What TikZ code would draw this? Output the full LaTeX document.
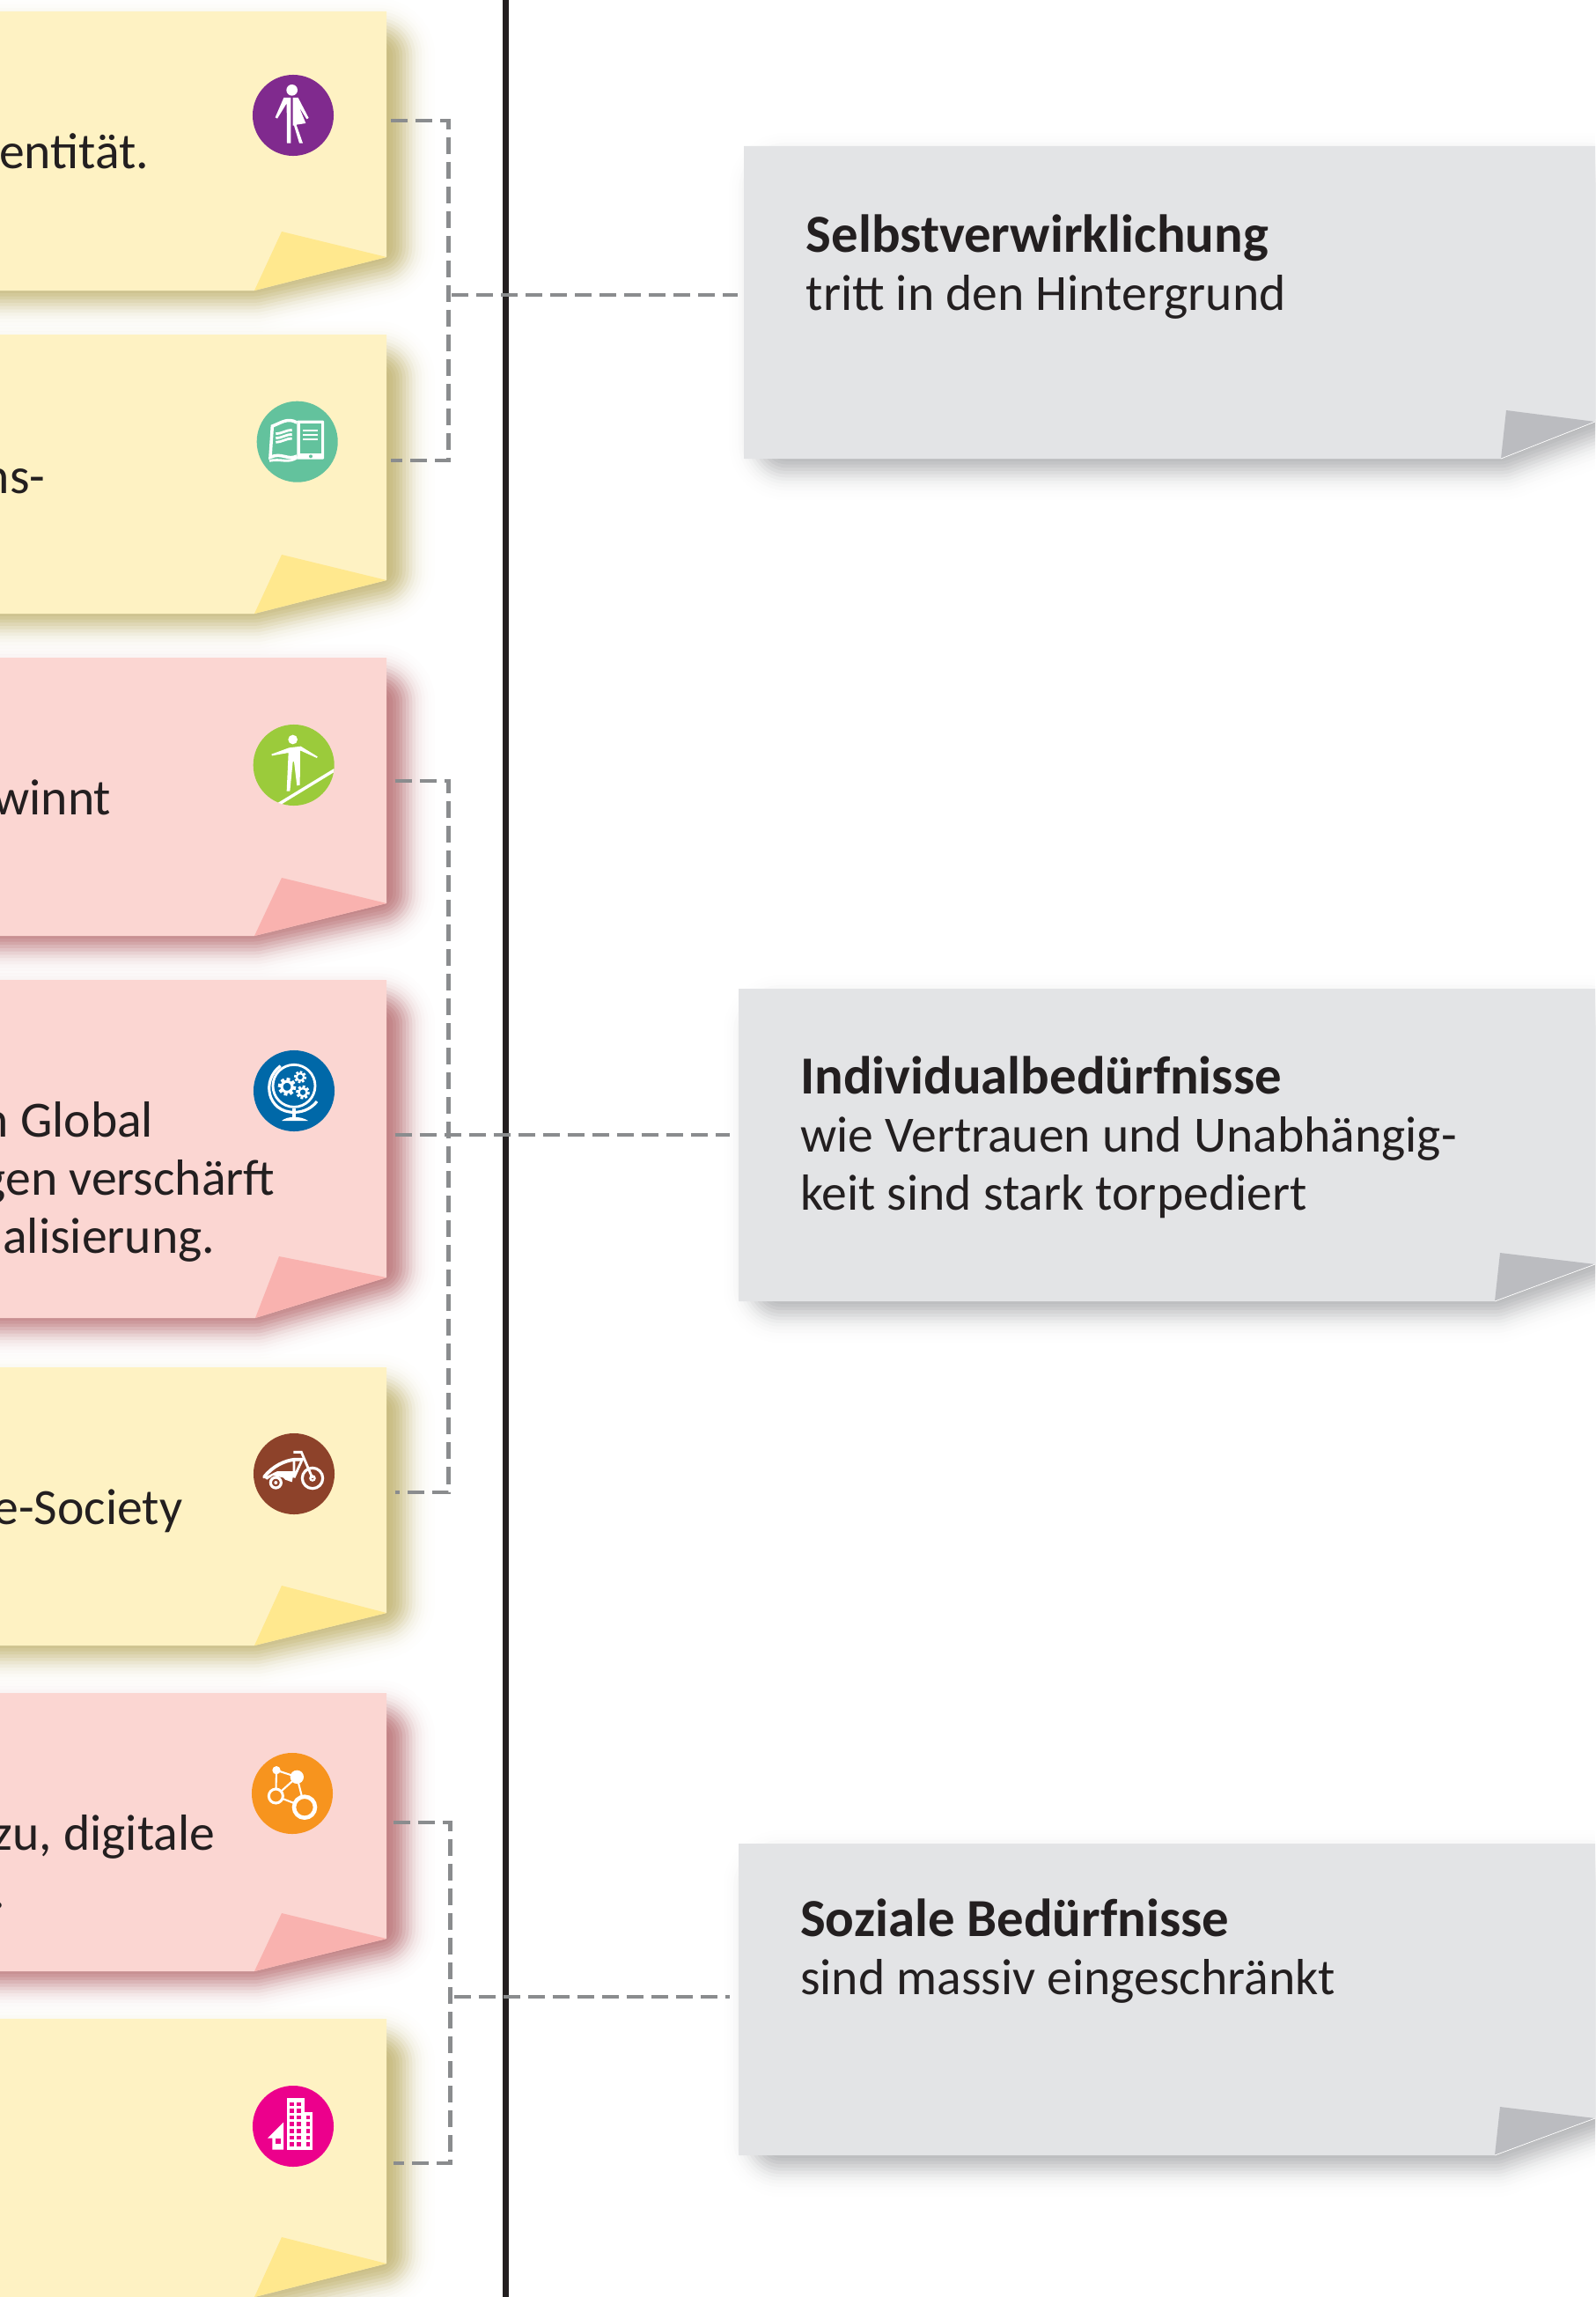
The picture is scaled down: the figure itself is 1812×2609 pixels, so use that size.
\documentclass[tikz,border=0pt]{standalone}
\usepackage{fontspec}
\setmainfont{Carlito}
\usetikzlibrary{calc}

\definecolor{inkdark}{HTML}{231F20}
\definecolor{linkgray}{HTML}{8A8C8E}
\definecolor{paperY}{HTML}{FEF2C3}
\definecolor{foldY}{HTML}{FFE88E}
\definecolor{shadeY}{HTML}{C6B97C}
\definecolor{paperR}{HTML}{FBD6D2}
\definecolor{foldR}{HTML}{F9B2AF}
\definecolor{shadeR}{HTML}{BE7C7F}
\definecolor{paperG}{HTML}{E3E4E6}
\definecolor{foldG}{HTML}{BBBCC0}
\definecolor{shadeG}{HTML}{B2B3B5}
\definecolor{badgepurple}{HTML}{802A8E}
\definecolor{badgegreen}{HTML}{63C29D}
\definecolor{badgelime}{HTML}{9BCB3B}
\definecolor{badgeblue}{HTML}{0068A8}
\definecolor{badgebrown}{HTML}{8D422A}
\definecolor{badgeorange}{HTML}{F7941E}
\definecolor{badgepink}{HTML}{EC008C}

\newcommand{\icongear}[3]{%
    \draw[white, line width=#3*0.0012cm] (#1,#2) circle ({#3*0.72});
    \foreach \a in {0,45,...,315}
        \draw[white, line width=#3*0.0016cm] (#1,#2) ++(\a+10:{#3*0.8}) -- ++(\a+10:{#3*0.42});
}
\newcommand{\boldline}[1]{{\fontsize{17.3}{18.7}\selectfont\bfseries #1}}

\begin{document}
\begin{tikzpicture}[
    x=0.01cm, y=-0.01cm,
    notetext/.style={font=\fontsize{16.4}{18.7}\selectfont, text=inkdark, inner sep=0pt},
    badge/.style={circle, minimum size=0.92cm, inner sep=0pt},
    dashlink/.style={draw=linkgray, line width=1.2pt, dash pattern=on 0.19cm off 0.09cm},
    zoomed/.style={x=0.01cm/3, y=-0.01cm/3},
    sheet/.style={inner sep=0pt}
]
    \useasboundingbox (0,0) rectangle (1812,2609);
    \clip (0,0) rectangle (1812,2609);

    % Sheets: shadows first, then paper and fold
    \def\sheetlist{
        noteIdent/-80/439/13/330/292/320/263/289/Y,
        noteBook/-80/439/380/697/659/320/630/289/Y,
        noteRope/-80/439/747/1063/1026/320/997/289/R,
        noteGlobe/-80/439/1113/1497/1451/317/1427/290/R,
        noteBike/-80/439/1553/1869/1832/320/1801/289/Y,
        noteNet/-80/439/1923/2239/2202/320/2173/289/R,
        noteCity/-80/439/2293/2609/2571/320/2541/289/Y,
        boxSelbst/845/1812/166/521/479/1711/466/1705/G,
        boxIndiv/839/1812/1123/1478/1436/1704/1423/1698/G,
        boxSozial/839/1812/2094/2448/2406/1704/2393/1698/G}
    \foreach \nm/\nl/\nr/\nt/\nb/\nc/\tx/\ty/\fx/\kind [expand list] in \sheetlist {
        \foreach \k in {1,...,16} {
            \pgfmathsetmacro{\lw}{2*(6+3.7*\k)*0.01}
            \pgfmathsetmacro{\op}{0.01+0.0024*(16-\k)*(16-\k)}
            \draw[draw=shade\kind, opacity=\op, line join=round, line width=\lw cm]
                ({\nl+48},{\nt+50}) -- ({\nr-10},{\nt+50}) -- ({\nr-10},{\nc-12}) -- (\fx,{\nb-18}) -- ({\nl+48},{\nb-18}) -- cycle;
        }
    }
    \foreach \nm/\nl/\nr/\nt/\nb/\nc/\tx/\ty/\fx/\kind [expand list] in \sheetlist {
        \fill[paper\kind] (\nl,\nt) -- (\nr,\nt) -- (\nr,\nc) -- (\fx,\nb) -- (\nl,\nb) -- cycle;
        \fill[fold\kind] (\tx,\ty) -- (\nr,\nc) -- (\fx,\nb) -- cycle;
        \node[sheet, minimum width={(\nr-\nl)*0.01cm}, minimum height={(\nb-\nt)*0.01cm}] (\nm)
            at ({(\nl+\nr)/2},{(\nt+\nb)/2}) {};
    }
    \draw[white, line width=0.2pt] (1705,521) -- (1812,479);
    \draw[white, line width=0.2pt] (1698,1478) -- (1812,1436);
    \draw[white, line width=0.2pt] (1698,2448) -- (1812,2406);

    % Divider
    \coordinate (dividerTop) at (574.5,0);
    \coordinate (dividerBottom) at (574.5,2609);
    \draw[inkdark, line width=2pt] (dividerTop) -- (dividerBottom);

    % Connectors
    \coordinate (linkIdent) at (444,137);
    \coordinate (linkBook) at (444,523);
    \coordinate (spineSelbst) at (509.5,335);
    \coordinate (branchSelbst) at (513,335);
    \draw[dashlink] (linkIdent) -| (spineSelbst) |- (linkBook);
    \draw[dashlink, shorten >=6*0.01cm] (branchSelbst) -- (branchSelbst -| boxSelbst.west);

    \coordinate (linkRope) at (448.5,887);
    \coordinate (linkBike) at (448.5,1695);
    \coordinate (linkGlobe) at (448.5,1289);
    \coordinate (spineIndiv) at (509.5,1289);
    \draw[dashlink] (linkRope) -| (spineIndiv) |- (linkBike);
    \draw[dashlink, shorten >=9*0.01cm] (linkGlobe) -- (linkGlobe -| boxIndiv.west);

    \coordinate (linkNet) at (446.5,2070);
    \coordinate (linkCity) at (446.5,2457);
    \coordinate (spineSozial) at (511.5,2268);
    \coordinate (branchSozial) at (515.5,2268);
    \draw[dashlink] (linkNet) -| (spineSozial) |- (linkCity);
    \draw[dashlink, shorten >=9*0.01cm] (branchSozial) -- (branchSozial -| boxSozial.west);

    % Cut-off note texts
    \node[notetext, anchor=base east] (textIdent) at (170,192) {entität.};
    \node[notetext, anchor=base east] (textBook) at (52,560) {ns-};
    \node[notetext, anchor=base east] (textRope) at (127,925.5) {winnt};
    \node[notetext, anchor=base east] (textGlobeA) at (175,1291.5) {n Global};
    \node[notetext, anchor=base east] (textGlobeB) at (313,1357.5) {gen verschärft};
    \node[notetext, anchor=base east] (textGlobeC) at (245,1423.5) {alisierung.};
    \node[notetext, anchor=base east] (textBike) at (208,1731) {e-Society};
    \node[notetext, anchor=base east] (textNetA) at (245,2101) {zu, digitale};
    \node[notetext, anchor=base east] (textNetB) at (7,2167) {.};

    % Grey box texts
    \node[notetext, anchor=base west, align=left] (textSelbst) at (915,352.5)
        {\boldline{Selbstverwirklichung}\\tritt in den Hintergrund};
    \node[notetext, anchor=base west, align=left] (textIndiv) at (908.5,1374)
        {\boldline{Individualbedürfnisse}\\wie Vertrauen und Unabhängig-\\keit sind stark torpediert};
    \node[notetext, anchor=base west, align=left] (textSozial) at (908.5,2265)
        {\boldline{Soziale Bedürfnisse}\\sind massiv eingeschränkt};

    % Badges
    \node[badge, fill=badgepurple] (badgeIdent) at (333,131) {};
    \node[badge, fill=badgegreen] (badgeBook) at (337.7,501.7) {};
    \node[badge, fill=badgelime] (badgeRope) at (333.7,869) {};
    \node[badge, fill=badgeblue] (badgeGlobe) at (334,1239) {};
    \node[badge, fill=badgebrown] (badgeBike) at (334,1674) {};
    \node[badge, fill=badgeorange] (badgeNet) at (332,2037) {};
    \node[badge, fill=badgepink] (badgeCity) at (333,2415) {};

    % Half man, half woman
    \begin{scope}[shift={(260,60)}, zoomed]
        \fill[white] (215,127) circle (19);
        \fill[white] (187,153) -- (211,153) -- (211,308) -- (198,308) -- (197,172) -- (165,224) -- (158,220) -- cycle;
        \fill[white] (218,153) -- (236,153) -- (272,222) -- (265,226) -- (240,186) -- (262,240) -- (230,245)
            -- (252,308) -- (240,308) -- (222,248) -- (218,248) -- cycle;
    \end{scope}

    % Book and tablet
    \begin{scope}[shift={(260,430)}, zoomed]
        \fill[white, rounded corners=0.3pt] (232,143) rectangle (324,275);
        \fill[badgegreen] (242,153) rectangle (314,255);
        \fill[badgegreen] (279,265) circle (6);
        \draw[white, line width=0.8pt] (252,177) -- (304,177) (252,192) -- (304,192) (252,207) -- (304,207);
        \draw[white, line width=1pt] (232,150) .. controls (200,132) and (180,150) .. (148,162)
            -- (141,268) .. controls (180,250) and (200,280) .. (232,264);
        \draw[white, line width=0.8pt] (138,280) .. controls (180,272) and (200,290) .. (232,270);
        \draw[white, line width=0.8pt] (160,188) .. controls (180,188) and (195,175) .. (215,175)
            (160,203) .. controls (180,203) and (195,190) .. (215,190)
            (160,217) .. controls (180,217) and (195,204) .. (215,204);
    \end{scope}

    % Man on a rope
    \begin{scope}[shift={(260,800)}, zoomed]
        \fill[white] (218,120) circle (16);
        \fill[white] (145,170) -- (205,148) -- (245,143) -- (302,178) -- (300,183) -- (243,157) -- (242,275)
            -- (232,277) -- (222,195) -- (218,195) -- (208,296) -- (197,296) -- (203,165) -- (147,175) -- cycle;
        \begin{scope}
            \clip (221,208) circle (138);
            \draw[white, line width=1pt] (165,343) -- (365,221);
        \end{scope}
    \end{scope}

    % Globe with gears
    \begin{scope}[shift={(260,1170)}, zoomed]
        \draw[white, line width=0.8pt] (222,190) circle (72);
        \draw[white, line width=0.9pt] (176,122) .. controls (110,170) and (130,280) .. (222,280)
            .. controls (260,280) and (285,262) .. (300,243);
        \draw[white, line width=0.9pt] (222,268) -- (222,296);
        \fill[white] (180,309) .. controls (200,292) and (245,292) .. (270,309) -- cycle;
        \icongear{198}{193}{25}
        \icongear{243}{160}{17}
        \icongear{252}{212}{19}
    \end{scope}

    % Bike with trailer
    \begin{scope}[shift={(260,1610)}, zoomed]
        \draw[white, line width=0.9pt] (285,207) circle (35);
        \draw[white, line width=0.6pt] (285,207) circle (8);
        \draw[white, line width=0.9pt] (160,222) circle (18);
        \fill[white] (160,222) circle (6);
        \draw[white, line width=1.1pt, line cap=round] (120,203) .. controls (150,165) and (190,147) .. (225,143) -- (250,143);
        \fill[white] (120,205) -- (165,183) -- (222,183) -- (215,220) -- (192,212) -- (185,205) -- (150,198) -- (130,212) -- cycle;
        \draw[white, line width=0.8pt] (222,143) -- (222,205) (250,143) -- (222,205);
        \draw[white, line width=0.8pt] (220,118) -- (247,118) -- (285,207);
    \end{scope}

    % Network
    \begin{scope}[shift={(260,1980)}, zoomed]
        \draw[white, line width=0.6pt] (162,92) -- (232,115) -- (160,180) -- cycle (232,115) -- (258,218) -- (160,180);
        \fill[white] (162,92) circle (14);
        \fill[white] (232,115) circle (23);
        \draw[white, line width=0.85pt, fill=badgeorange] (160,180) circle (24);
        \draw[white, line width=1.3pt, fill=badgeorange] (258,218) circle (36);
    \end{scope}

    % Buildings
    \begin{scope}[shift={(260,2350)}, zoomed]
        \fill[white] (197,100) rectangle (258,275);
        \fill[white] (258,147) rectangle (285,275);
        \foreach \wy in {120,143,165,188,211,234,257}
            \foreach \wx in {215,238}
                \fill[badgepink] ({\wx-7},{\wy-7}) rectangle ({\wx+7},{\wy+7});
        \foreach \wy in {165,188,211,234,257}
            \fill[badgepink] (263,{\wy-7}) rectangle (277,{\wy+7});
        \fill[white] (132,236) -- (186,182) -- (186,275) -- (148,275) -- (148,236) -- cycle;
        \fill[badgepink] (159,237) rectangle (177,255);
    \end{scope}
\end{tikzpicture}
\end{document}
